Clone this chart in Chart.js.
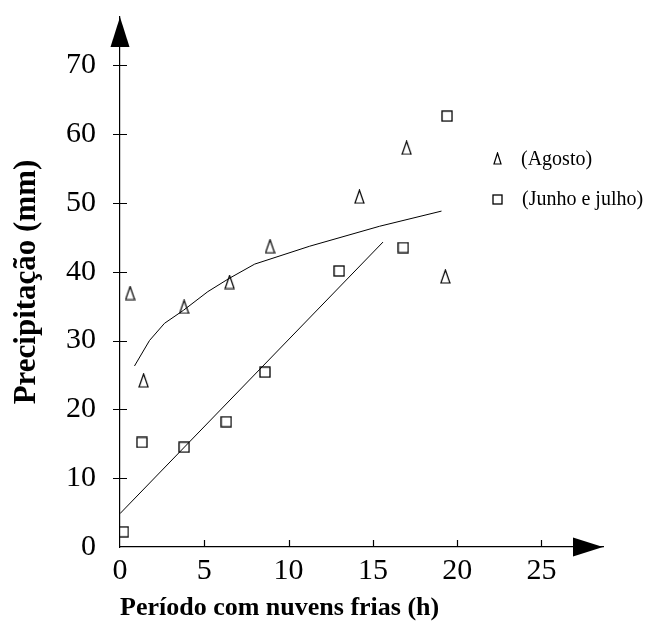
<!DOCTYPE html>
<html>
<head>
<meta charset="utf-8">
<script src="https://cdn.jsdelivr.net/npm/chart.js@4/dist/chart.umd.min.js"></script>
<style>
  html, body { margin: 0; padding: 0; background: #fff; }
  canvas { display: block; }
</style>
</head>
<body>
<canvas id="chart" width="652" height="630"></canvas>
<script>
// Agosto (triangles)
const agostoX = [0.6, 1.4, 3.8, 6.5, 8.9, 14.2, 17.0, 19.3];
const agostoY = [36.9, 24.2, 34.9, 38.5, 43.7, 50.9, 58.0, 39.3];
// Junho e julho (squares)
const junhoX = [0.2, 1.3, 3.8, 6.3, 8.6, 13.0, 16.8, 19.4];
const junhoY = [2.2, 15.2, 14.5, 18.2, 25.4, 40.1, 43.5, 62.6];
// fitted curve for agosto
const curveX = [0.86, 1.75, 2.64, 3.77, 5.21, 6.46, 7.99, 11.25, 15.4, 19.07];
const curveY = [26.3, 30.0, 32.5, 34.4, 37.1, 39.0, 41.1, 43.7, 46.6, 48.8];
// fitted line for junho e julho
const lineX = [0, 15.6];
const lineY = [4.85, 44.3];

const xTicks = [0, 5, 10, 15, 20, 25];
const yTicks = [0, 10, 20, 30, 40, 50, 60, 70];
const labels = ['(Agosto)', '(Junho e julho)'];

const pts = (xs, ys) => xs.map((x, i) => ({ x, y: ys[i] }));

function triangleCanvas(w, h) {
  const c = document.createElement('canvas');
  c.width = w; c.height = h;
  const g = c.getContext('2d');
  g.strokeStyle = '#000'; g.lineWidth = 1.2;
  g.beginPath();
  g.moveTo(w / 2, 1); g.lineTo(w - 1, h - 1); g.lineTo(1, h - 1); g.closePath();
  g.stroke();
  return c;
}
function squareCanvas(s) {
  const c = document.createElement('canvas');
  c.width = s; c.height = s;
  const g = c.getContext('2d');
  g.strokeStyle = '#000'; g.lineWidth = 1.3;
  g.strokeRect(1, 1, s - 2, s - 2);
  return c;
}
const triMark = triangleCanvas(11, 15);
const sqMark = squareCanvas(12);

// ticks, arrows and legend drawn by hand
const decor = {
  id: 'decor',
  afterDraw(chart) {
    const { ctx, scales: { x, y } } = chart;
    const x0 = x.getPixelForValue(0), y0 = y.getPixelForValue(0);
    ctx.save();
    ctx.strokeStyle = '#000'; ctx.fillStyle = '#000'; ctx.lineWidth = 1.2;
    ctx.beginPath();
    yTicks.filter(v => v > 0).forEach(v => {
      const p = Math.round(y.getPixelForValue(v)) + 0.5;
      ctx.moveTo(x0 - 7, p); ctx.lineTo(x0 + 7, p);
    });
    xTicks.filter(v => v > 0).forEach(v => {
      const p = Math.round(x.getPixelForValue(v)) + 0.5;
      ctx.moveTo(p, y0); ctx.lineTo(p, y0 - 7);
    });
    ctx.stroke();
    // arrows
    const top = chart.chartArea.top, right = chart.chartArea.right;
    ctx.beginPath();
    ctx.moveTo(x0, top); ctx.lineTo(x0 + 9.5, top + 30); ctx.lineTo(x0 - 9.5, top + 30); ctx.closePath();
    ctx.fill();
    ctx.beginPath();
    ctx.moveTo(right, y0); ctx.lineTo(right - 30, y0 - 9.5); ctx.lineTo(right - 30, y0 + 9.5); ctx.closePath();
    ctx.fill();
    // legend
    ctx.font = '20px "Liberation Serif"';
    ctx.textBaseline = 'middle';
    ctx.drawImage(triangleCanvas(9, 13), 493, 152);
    ctx.fillText(labels[0], 521, 160);
    ctx.drawImage(squareCanvas(11), 492, 194);
    ctx.fillText(labels[1], 522, 200);
    ctx.restore();
  }
};

const tickFont = { family: 'Liberation Serif', size: 30 };

new Chart(document.getElementById('chart'), {
  type: 'scatter',
  data: {
    datasets: [
      { label: labels[0], data: pts(agostoX, agostoY), pointStyle: triMark, pointRadius: 6, showLine: false },
      { label: labels[1], data: pts(junhoX, junhoY), pointStyle: sqMark, pointRadius: 6, showLine: false },
      { label: 'curve', data: pts(curveX, curveY), showLine: true, pointRadius: 0, borderColor: '#000', borderWidth: 1, tension: 0 },
      { label: 'line', data: pts(lineX, lineY), showLine: true, pointRadius: 0, borderColor: '#000', borderWidth: 1 }
    ]
  },
  options: {
    responsive: false,
    animation: false,
    layout: { padding: { top: 17, right: 49, left: 0, bottom: 0 } },
    plugins: { legend: { display: false }, tooltip: { enabled: false } },
    scales: {
      x: {
        type: 'linear', min: 0, max: 28.65,
        afterFit: s => { s.height = 83; s.paddingLeft = 0; s.paddingRight = 0; },
        border: { color: '#000', width: 1.2 },
        grid: { display: false, drawTicks: false },
        afterBuildTicks: s => { s.ticks = xTicks.map(v => ({ value: v })); },
        ticks: { color: '#000', font: tickFont, padding: 6, maxRotation: 0 },
        title: {
          display: true, text: 'Período com nuvens frias (h)', align: 'start',
          color: '#000', font: { family: 'Liberation Serif', size: 26, weight: 'bold' },
          padding: { bottom: 6 }
        }
      },
      y: {
        type: 'linear', min: 0, max: 77,
        afterFit: s => { s.width = 120; s.paddingTop = 0; s.paddingBottom = 0; },
        border: { color: '#000', width: 1.2 },
        grid: { display: false, drawTicks: false },
        afterBuildTicks: s => { s.ticks = yTicks.map(v => ({ value: v })); },
        ticks: { color: '#000', font: tickFont, padding: 24 },
        title: {
          display: true, text: 'Precipitação (mm)',
          color: '#000', font: { family: 'Liberation Serif', size: 31, weight: 'bold' },
          padding: { top: 8 }
        }
      }
    }
  },
  plugins: [decor]
});
</script>
</body>
</html>
